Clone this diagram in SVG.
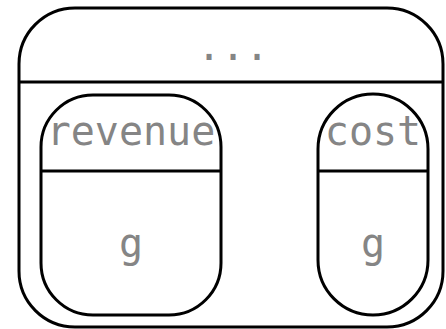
<svg xmlns="http://www.w3.org/2000/svg" width="446" height="329" viewBox="0 0 446 329">
<style>
.box{fill:#fff;stroke:#000;stroke-width:3}
.ln{stroke:#000;stroke-width:3}
.t{font-family:"DejaVu Sans Mono",monospace;font-size:40px;fill:#858585;text-anchor:middle}
</style>
<rect width="446" height="329" fill="#fff"/>
<g id="outer">
<rect class="box" x="19" y="8" width="424" height="319" rx="56" ry="56"/>
<line class="ln" x1="19" y1="82" x2="443" y2="82"/>
<text class="t" x="233" y="60">...</text>
</g>
<g id="revenue">
<rect class="box" x="41" y="95" width="180" height="220" rx="52" ry="52"/>
<line class="ln" x1="41" y1="171" x2="221" y2="171"/>
<text class="t" x="131" y="145">revenue</text>
<text class="t" x="131" y="257">g</text>
</g>
<g id="cost">
<rect class="box" x="318" y="94" width="110" height="221" rx="55" ry="55"/>
<line class="ln" x1="318" y1="171" x2="428" y2="171"/>
<text class="t" x="373" y="145">cost</text>
<text class="t" x="373" y="257">g</text>
</g>
<g id="connectors"/>
</svg>
